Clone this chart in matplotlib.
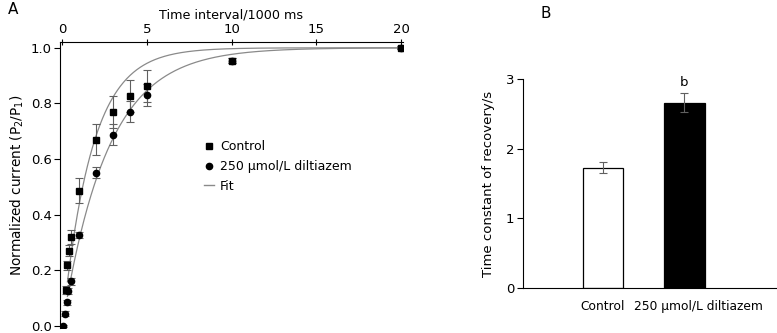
import numpy as np
import matplotlib.pyplot as plt
from matplotlib.transforms import ScaledTranslation

plt.rcParams['font.family'] = ['DejaVu Sans']

# panel A: recovery data (time in s)
t_ctrl = [0.2, 0.3, 0.4, 0.5, 1, 2, 3, 4, 5, 10, 20]
y_ctrl = [0.129, 0.218, 0.271, 0.319, 0.486, 0.670, 0.768, 0.827, 0.863, 0.954, 1.0]
e_ctrl = [0.015, 0.015, 0.02, 0.025, 0.045, 0.057, 0.057, 0.058, 0.058, 0.008, 0.005]

t_dil = [0.05, 0.15, 0.25, 0.35, 0.5, 1, 2, 3, 4, 5, 10, 20]
y_dil = [0.0, 0.045, 0.085, 0.125, 0.161, 0.327, 0.551, 0.688, 0.771, 0.831, 0.954, 1.0]
e_dil = [0.005, 0.008, 0.01, 0.01, 0.012, 0.012, 0.02, 0.039, 0.037, 0.04, 0.008, 0.005]

# panel B: time constants
groups = ["Control", "250 μmol/L diltiazem"]
tau = [1.73, 2.665]
tau_err = [0.086, 0.135]

fig = plt.figure(figsize=(7.77, 3.33), dpi=100)

# ! A
axA = fig.add_axes([0.0772, 0.015, 0.4415, 0.859])
tt = np.linspace(0.3, 20, 400)
axA.plot(tt, 1 - np.exp(-tt / tau[0]), color="#8a8a8a", lw=0.9)
axA.plot(tt, 1 - np.exp(-tt / tau[1]), color="#8a8a8a", lw=0.9)
axA.errorbar(t_ctrl, y_ctrl, yerr=e_ctrl, fmt="none", ecolor="#606060",
             elinewidth=0.8, capsize=2.8, capthick=0.8)
axA.errorbar(t_dil, y_dil, yerr=e_dil, fmt="none", ecolor="#606060",
             elinewidth=0.8, capsize=2.8, capthick=0.8)
axA.plot(t_ctrl, y_ctrl, "s", color="black", ms=4.5, label="Control")
axA.plot(t_dil, y_dil, "o", color="black", ms=4.5, label="250 μmol/L diltiazem")
axA.plot([], [], color="#8a8a8a", lw=1, label="Fit")

axA.set_xlim(-0.14, 20.12)
axA.set_ylim(-0.007, 1.021)
axA.xaxis.tick_top()
axA.xaxis.set_label_position("top")
axA.set_xticks([0, 5, 10, 15, 20])
axA.set_yticks([0, 0.2, 0.4, 0.6, 0.8, 1.0])
axA.set_yticklabels(["0.0", "0.2", "0.4", "0.6", "0.8", "1.0"])
axA.tick_params(axis="x", direction="inout", length=5, pad=2, labelsize=9.5)
axA.tick_params(axis="y", direction="out", length=4, pad=2, labelsize=9.5)
axA.spines["right"].set_visible(False)
axA.spines["bottom"].set_visible(False)
axA.set_xlabel("Time interval/1000 ms", fontsize=9.2, labelpad=3)
axA.set_ylabel("Normalized current (P$_2$/P$_1$)", fontsize=9.8, labelpad=3)
axA.legend(loc="upper left", bbox_to_anchor=(204 / 777, 1 - 140 / 333),
           bbox_transform=fig.transFigure, frameon=False, fontsize=9,
           handlelength=0.8, handletextpad=0.5, labelspacing=0.55, borderpad=0,
           borderaxespad=0)
fig.text(8 / 777, 1 - 10 / 333, "A", fontsize=11, va="center")

# ! B
axB = fig.add_axes([0.6727, 0.136, 0.3273, 0.626])
x = np.arange(len(groups))
axB.bar(x, tau, width=0.5, color=["white", "black"], edgecolor="black", lw=0.9,
        yerr=tau_err, error_kw=dict(ecolor="#606060", elinewidth=0.8,
                                    capsize=3, capthick=0.8))
axB.text(1, tau[1] + tau_err[1] + 0.06, "b", ha="center", va="bottom", fontsize=9.5)
axB.set_xlim(-0.985, 2.135)
axB.set_ylim(0, 3)
axB.set_yticks([0, 1, 2, 3])
axB.set_xticks(x)
axB.set_xticklabels(groups, fontsize=8.8)
axB.tick_params(axis="x", length=0, pad=9)
axB.tick_params(axis="y", direction="out", length=4, pad=2, labelsize=9.5)
lab = axB.get_xticklabels()[1]
lab.set_transform(lab.get_transform() + ScaledTranslation(0.14, 0, fig.dpi_scale_trans))
axB.spines["right"].set_visible(False)
axB.spines["top"].set_visible(False)
axB.set_ylabel("Time constant of recovery/s", fontsize=9.5, labelpad=8)
fig.text(541 / 777, 1 - 14 / 333, "B", fontsize=11, va="center")

fig.savefig("out.png", dpi=100)
